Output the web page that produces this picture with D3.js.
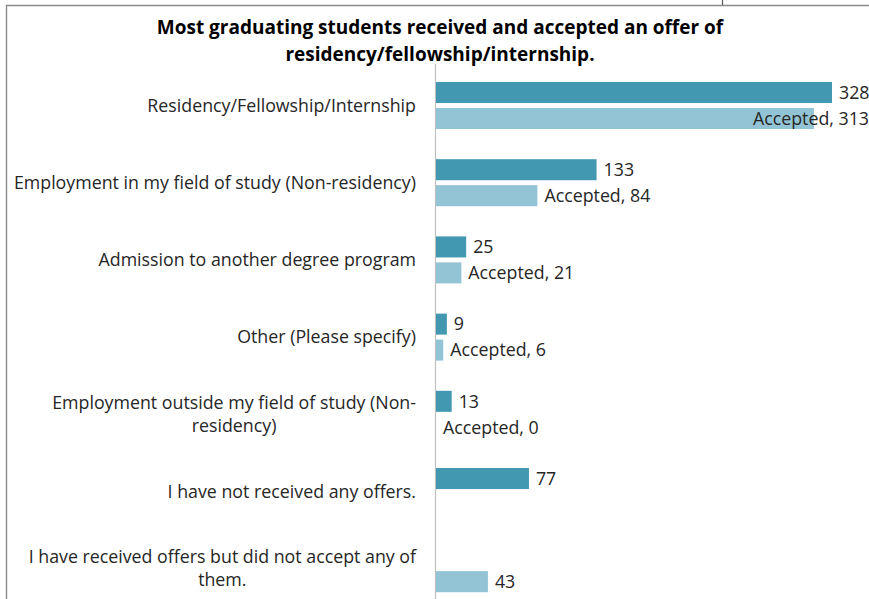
<!DOCTYPE html>
<html>
<head>
<meta charset="utf-8">
<script src="https://cdn.jsdelivr.net/npm/d3@7"></script>
<style>
  html, body { margin: 0; padding: 0; background: #fff; }
  svg { display: block; }
  text { font-family: "Open Sans", "Noto Sans", sans-serif; }
</style>
</head>
<body>
<svg id="chart" width="869" height="599"></svg>
<script>
const titleLines = ["Most graduating students received and accepted an offer of",
                    "residency/fellowship/internship."];
const categories = [
  "Residency/Fellowship/Internship",
  "Employment in my field of study (Non-residency)",
  "Admission to another degree program",
  "Other (Please specify)",
  "Employment outside my field of study (Non-residency)",
  "I have not received any offers.",
  "I have received offers but did not accept any of them."
];
const categoryLines = [
  ["Residency/Fellowship/Internship"],
  ["Employment in my field of study (Non-residency)"],
  ["Admission to another degree program"],
  ["Other (Please specify)"],
  ["Employment outside my field of study (Non-", "residency)"],
  ["I have not received any offers."],
  ["I have received offers but did not accept any of", "them."]
];
const offered  = [328, 133, 25, 9, 13, 77, null];
const accepted = [313, 84, 21, 6, 0, null, 43];
const acceptedSeriesName = "Accepted";
const showSeriesName = [true, true, true, true, true, false, false];

const colOffered = "#4398B1";
const colAccepted = "#93C4D5";
const textCol = "#262626";
const fs = 17.8;

const svg = d3.select("#chart");
const W = 869, H = 599;

// frame
svg.append("path").attr("d", "M6.5,599 V5.5 H869")
  .attr("fill", "none").attr("stroke", "#8a8a8a").attr("stroke-width", 1.4);
svg.append("line").attr("x1", 722.5).attr("x2", 722.5).attr("y1", 0).attr("y2", 5)
  .attr("stroke", "#555").attr("stroke-width", 1.2);

// title
svg.append("text")
  .attr("x", 440).attr("y", 34)
  .attr("text-anchor", "middle")
  .attr("font-weight", "bold").attr("font-size", 19).attr("fill", "#000")
  .selectAll("tspan").data(titleLines).join("tspan")
  .attr("x", 440).attr("dy", (d, i) => i === 0 ? 0 : 26.5)
  .text(d => d);

// scales
const y = d3.scaleBand().domain(categories).range([66.9, 607.3]).paddingInner(0);
const sub = d3.scaleBand().domain(["offered", "accepted"])
  .range([15.1, y.bandwidth() - 15.1]).paddingInner(0.19);
const x = d3.scaleLinear().domain([0, 328]).range([436, 832]);

// axis line
const axis = d3.axisLeft(y).tickSize(0).tickFormat("");
const axisG = svg.append("g").attr("transform", `translate(${x(0) - 0.5},0)`).call(axis);
axisG.select(".domain").attr("stroke", "#bfbfbf").attr("stroke-width", 1.2)
  .attr("d", `M0,64V${H}`);

// category labels
const labelRight = 416;
const labelG = svg.append("g");
categories.forEach((c, i) => {
  const lines = categoryLines[i];
  const cy = y(c) + y.bandwidth() / 2;
  const t = labelG.append("text")
    .attr("font-size", fs).attr("fill", textCol)
    .attr("text-anchor", "middle");
  const lh = 23;
  const y0 = cy - (lines.length - 1) * lh / 2;
  const ts = lines.map((l, j) => t.append("tspan").attr("y", y0 + j * lh).attr("dy", "0.35em").text(l));
  const bw = d3.max(ts, s => s.node().getComputedTextLength());
  ts.forEach(s => s.attr("x", labelRight - bw / 2));
});

// bars
const rows = categories.map((c, i) => ({c, o: offered[i], a: accepted[i], i}));
const g = svg.append("g");
rows.filter(d => d.o != null).forEach(d => {
  const by = y(d.c) + sub("offered");
  g.append("rect").attr("x", x(0)).attr("y", by)
    .attr("width", x(d.o) - x(0)).attr("height", sub.bandwidth())
    .attr("fill", colOffered);
  g.append("text").attr("x", x(d.o) + 7).attr("y", by + sub.bandwidth() / 2)
    .attr("dy", "0.35em").attr("font-size", fs).attr("fill", textCol).text(d.o);
});
rows.filter(d => d.a != null).forEach(d => {
  const by = y(d.c) + sub("accepted");
  g.append("rect").attr("x", x(0)).attr("y", by)
    .attr("width", x(d.a) - x(0)).attr("height", sub.bandwidth())
    .attr("fill", colAccepted);
  const t = g.append("text").attr("x", x(d.a) + 7).attr("y", by + sub.bandwidth() / 2)
    .attr("dy", "0.35em").attr("font-size", fs).attr("fill", textCol)
    .text(showSeriesName[d.i] ? `${acceptedSeriesName}, ${d.a}` : `${d.a}`);
  const w = t.node().getComputedTextLength();
  if (x(d.a) + 7 + w > W) t.attr("x", W - w);
});
</script>
</body>
</html>
